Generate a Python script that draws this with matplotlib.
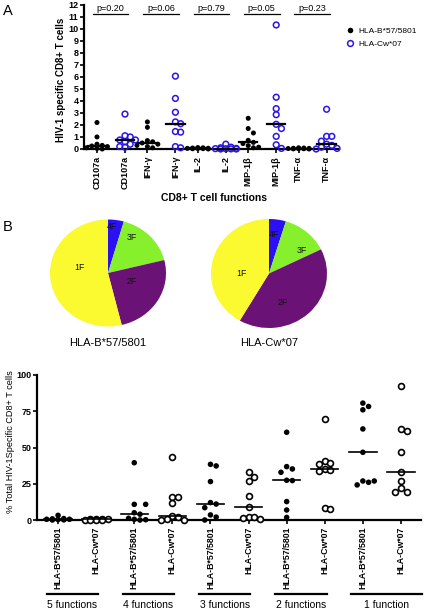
import numpy as np
import matplotlib
matplotlib.use("Agg")
import matplotlib.pyplot as plt
import matplotlib.transforms as mtransforms
from matplotlib.lines import Line2D

plt.rcParams['font.family'] = ['Liberation Sans', 'DejaVu Sans']

# ---------------- Data ----------------
# Panel A
func_labels = ['CD107a', 'IFN-γ', 'IL-2', 'MIP-1β', 'TNF-α']
pvalues = ['p=0.20', 'p=0.06', 'p=0.79', 'p=0.05', 'p=0.23']
a_b57 = {
    'CD107a': [2.2, 1.0, 0.4, 0.3, 0.25, 0.2, 0.1, 0.05, 0.0],
    'IFN-γ': [2.25, 1.8, 0.7, 0.6, 0.5, 0.4, 0.3, 0.2, 0.1],
    'IL-2': [0.12, 0.1, 0.08, 0.06, 0.05, 0.04, 0.03, 0.02, 0.0],
    'MIP-1β': [2.55, 1.7, 1.33, 0.72, 0.55, 0.45, 0.28, 0.15, 0.1],
    'TNF-α': [0.1, 0.08, 0.06, 0.05, 0.04, 0.03, 0.02, 0.01, 0.0],
}
a_cw = {
    'CD107a': [2.9, 1.1, 1.0, 0.75, 0.75, 0.6, 0.4, 0.2, 0.15],
    'IFN-γ': [6.05, 4.2, 3.05, 2.25, 2.1, 1.45, 1.4, 0.2, 0.1],
    'IL-2': [0.4, 0.15, 0.1, 0.05, 0.03, 0.02, 0.01, 0.0, 0.0],
    'MIP-1β': [10.3, 4.3, 3.35, 2.85, 2.05, 1.7, 1.05, 0.35, 0.05],
    'TNF-α': [3.3, 1.05, 1.05, 0.65, 0.4, 0.3, 0.15, 0.05, 0.0],
}
legend_labels = ['HLA-B*57/5801', 'HLA-Cw*07']

# Panel B
pie_labels = ['4F', '3F', '2F', '1F']
pie_b57 = [4.4, 16.7, 25.1, 53.8]
pie_cw = [4.7, 13.0, 40.7, 41.6]
pie_titles = ['HLA-B*57/5801', 'HLA-Cw*07']

# Panel C
group_labels = ['5 functions', '4 functions', '3 functions', '2 functions', '1 function']
c_tick_labels = ['HLA-B*57/5801', 'HLA-Cw*07']
c_b57 = [
    [3.2, 1.0, 0.8, 0.5, 0.5, 0.3, 0.1, 0.0],
    [39.5, 10.8, 10.8, 5.0, 4.0, 1.2, 0.5, 0.2, 0.0],
    [38.4, 37.3, 26.5, 12.0, 11.0, 8.5, 3.5, 2.0, 0.0],
    [60.5, 36.8, 35.2, 32.9, 27.4, 27.2, 12.7, 6.9, 1.8],
    [80.6, 78.3, 76.0, 62.8, 46.7, 26.9, 26.9, 26.0, 24.2],
]
c_cw = [
    [0.8, 0.6, 0.5, 0.4, 0.3, 0.2, 0.1, 0.0],
    [43.3, 16.1, 15.6, 12.0, 2.5, 2.4, 0.5, 0.3, 0.0],
    [33.4, 29.5, 27.0, 16.6, 9.2, 2.3, 1.8, 1.5, 1.0],
    [69.8, 41.0, 39.1, 38.4, 35.2, 34.5, 34.0, 8.0, 7.8],
    [92.7, 62.8, 61.7, 47.2, 32.9, 26.9, 22.3, 19.1, 19.1],
]

# ---------------- Style ----------------
W, H = 424, 611
DPI = 100
BLUE = '#2a14e6'
pie_colors = ['#2a10f2', '#86f02c', '#6b1277', '#fbf92f']


def fr(x0, y0, x1, y1):
    """pixel box (top-left origin) -> figure fraction rect"""
    return [x0 / W, 1 - y1 / H, (x1 - x0) / W, (y1 - y0) / H]


def swarm(ax, xc, vals, diam_px, max_k=2):
    """Return x positions (data) for a compact beeswarm around xc."""
    pts = ax.transData.transform(np.column_stack([np.full(len(vals), xc), vals]))
    order = np.argsort(-np.asarray(vals))
    placed = []
    xs = np.zeros(len(vals))
    cands = [0.0]
    for k in range(1, max_k + 1):
        cands += [k * diam_px * 0.95, -k * diam_px * 0.95]
    for i in order:
        px, py = pts[i]
        best, best_d = cands[0], -1
        for c in cands:
            dmin = min([np.hypot(px + c - qx, py - qy) for (qx, qy) in placed] + [1e9])
            if dmin >= diam_px * 0.95:
                best = c
                break
            if dmin > best_d:
                best_d, best = dmin, c
        placed.append((px + best, py))
        xs[i] = ax.transData.inverted().transform((px + best, py))[0]
    return xs


fig = plt.figure(figsize=(W / DPI, H / DPI), dpi=DPI)

# ---------------- Panel A ----------------
axA = fig.add_axes(fr(84, 4.5, 338, 149))
posA = []
for g in range(5):
    posA += [g * 1.8, g * 1.8 + 1.0]
posA = np.array(posA)
axA.set_xlim(-0.464, 8.607)
axA.set_ylim(0, 12)
for s in ['top', 'right']:
    axA.spines[s].set_visible(False)
for s in ['left', 'bottom']:
    axA.spines[s].set_linewidth(1.6)
axA.set_yticks(range(0, 13))
axA.set_yticklabels([str(v) for v in range(13)], fontsize=6.5, fontweight='bold')
axA.set_xticks(posA)
axA.set_xticklabels([lab for lab in func_labels for _ in range(2)], rotation=90,
                    fontsize=6.5, fontweight='bold')
axA.tick_params(axis='y', length=3, width=1.2, pad=1)
axA.tick_params(axis='x', length=3, width=1.2, pad=2)

for g, lab in enumerate(func_labels):
    for m, (data, filled) in enumerate([(a_b57[lab], True), (a_cw[lab], False)]):
        xc = posA[2 * g + m]
        vals = np.array(data)
        xs = swarm(axA, xc, vals, 5.5, max_k=2)
        if filled:
            axA.scatter(xs, vals, s=13, c='black', edgecolors='none', clip_on=False, zorder=3)
        else:
            axA.scatter(xs, vals, s=17, facecolors='none', edgecolors=BLUE, linewidths=1.1,
                        clip_on=False, zorder=3)
        med = np.median(vals)
        axA.plot([xc - 0.33, xc + 0.33], [med, med], color='black', lw=1.6, zorder=4,
                 clip_on=False)
    # p-value bars
    x0, x1 = posA[2 * g] - 0.15, posA[2 * g + 1] + 0.12
    axA.plot([x0, x1], [11.2, 11.2], color='black', lw=0.9, clip_on=False)
    axA.text((x0 + x1) / 2, 11.3, pvalues[g], ha='center', va='bottom', fontsize=6.5)

fig.text(61 / W, 1 - 80 / H, 'HIV-1 specific CD8+ T cells', rotation=90, ha='center',
         va='center', fontsize=7, fontweight='bold')
fig.text(214 / W, 1 - 198 / H, 'CD8+ T cell functions', ha='center', va='center',
         fontsize=7.5, fontweight='bold')
fig.text(8 / W, 1 - 11 / H, 'A', ha='center', va='center', fontsize=10.5)

hA = [Line2D([], [], marker='o', linestyle='none', markersize=4, color='black',
             markeredgewidth=0),
      Line2D([], [], marker='o', linestyle='none', markersize=4.2, markerfacecolor='none',
             markeredgecolor=BLUE, markeredgewidth=1.1)]
axA.legend(hA, legend_labels, loc='center left', bbox_to_anchor=(346 / W, 1 - 37.5 / H),
           bbox_transform=fig.transFigure, frameon=False, fontsize=6,
           handlelength=1.0, handletextpad=0.5, labelspacing=0.6, borderpad=0,
           borderaxespad=0)

# ---------------- Panel B ----------------
pie_boxes = [(50, 219.5, 166, 326.5), (211, 219, 327, 328)]
label_pos = [
    [(0.07, 0.87), (0.41, 0.66), (0.41, -0.15), (-0.5, 0.11)],
    [(0.09, 0.71), (0.57, 0.43), (0.24, -0.54), (-0.48, 0.0)],
]
for k, (vals, box) in enumerate(zip([pie_b57, pie_cw], pie_boxes)):
    ax = fig.add_axes(fr(*box))
    ax.pie(vals, colors=pie_colors, startangle=90, counterclock=False,
           wedgeprops=dict(linewidth=0))
    ax.set_aspect('auto')
    ax.set_xlim(-1, 1)
    ax.set_ylim(-1, 1)
    for lab, (lx, ly) in zip(pie_labels, label_pos[k]):
        ax.text(lx, ly, lab, ha='center', va='center', fontsize=6.3, color='#111111')
    cx = (box[0] + box[2]) / 2
    fig.text(cx / W, 1 - 343 / H, pie_titles[k], ha='center', va='center', fontsize=8)
fig.text(8 / W, 1 - 227 / H, 'B', ha='center', va='center', fontsize=10.5)

# ---------------- Panel C ----------------
axC = fig.add_axes(fr(37, 375, 421, 520))
axC.set_xlim(-0.553, 9.526)
axC.set_ylim(0, 100)
for s in ['top', 'right']:
    axC.spines[s].set_visible(False)
for s in ['left', 'bottom']:
    axC.spines[s].set_linewidth(1.6)
axC.set_yticks([0, 25, 50, 75, 100])
axC.set_yticklabels(['0', '25', '50', '75', '100'], fontsize=6.5, fontweight='bold')
posC = np.arange(10)
axC.set_xticks(posC)
axC.set_xticklabels(c_tick_labels * 5, rotation=90, fontsize=6.3, fontweight='bold')
axC.tick_params(axis='y', length=3, width=1.2, pad=1)
axC.tick_params(axis='x', length=3, width=1.2, pad=2)

for g in range(5):
    for m, (data, filled) in enumerate([(c_b57[g], True), (c_cw[g], False)]):
        xc = posC[2 * g + m]
        vals = np.array(data)
        xs = swarm(axC, xc, vals, 6.0, max_k=2)
        if filled:
            axC.scatter(xs, vals, s=16, c='black', edgecolors='none', clip_on=False, zorder=3)
        else:
            axC.scatter(xs, vals, s=18, facecolors='white', edgecolors='black',
                        linewidths=1.2, clip_on=False, zorder=3)
        med = np.median(vals)
        axC.plot([xc - 0.36, xc + 0.36], [med, med], color='black', lw=1.2, zorder=4,
                 clip_on=False)

trans = mtransforms.blended_transform_factory(axC.transData, fig.transFigure)
for g, lab in enumerate(group_labels):
    x0 = posC[2 * g] - 0.3
    x1 = posC[2 * g + 1] + 0.05 + (0.5 if g == 4 else 0)
    fig.add_artist(Line2D([x0, x1], [1 - 594 / H, 1 - 594 / H], transform=trans,
                          color='black', lw=1.6))
    fig.text((x0 + x1) / 2, 1 - 605 / H, lab, transform=trans, ha='center', va='center',
             fontsize=7.5)

fig.text(11 / W, 1 - 442 / H, '% Total HIV-1Specific CD8+ T cells', rotation=90,
         ha='center', va='center', fontsize=6.6)

fig.savefig('out.png', dpi=DPI)
